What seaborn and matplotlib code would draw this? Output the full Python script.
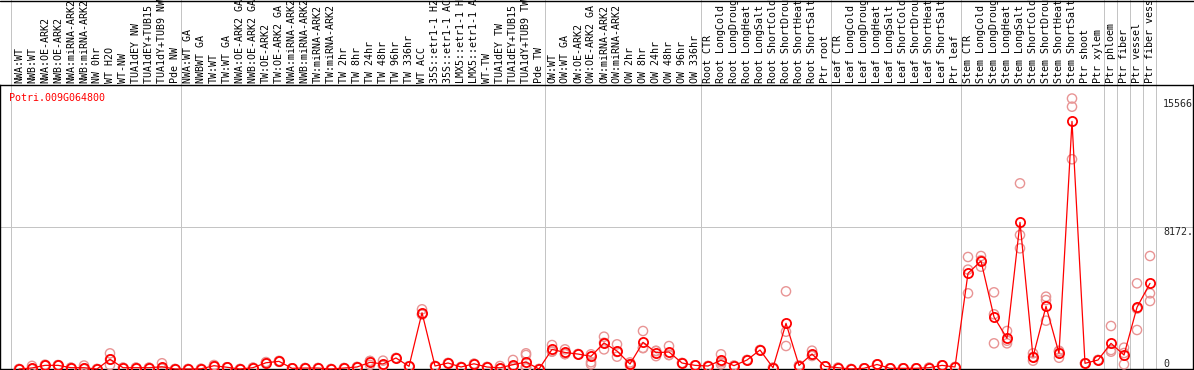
import numpy as np
import pandas as pd
import seaborn as sns
import matplotlib.pyplot as plt
import matplotlib.transforms as mtransforms

sns.set_style("white")
plt.rcParams['font.family'] = ['DejaVu Sans Mono', 'DejaVu Sans']

# sample names, left to right
samples = [
    'NWA:WT', 'NWB:WT', 'NWA:OE-ARK2', 'NWB:OE-ARK2', 'NWA:miRNA-ARK2', 'NWB:miRNA-ARK2',
    'NW 0hr', 'WT H2O', 'WT-NW', 'TUA1dEY NW', 'TUA1dEY+TUB15 NW', 'TUA1dY+TUB9 NW', 'Pde NW',
    'NWA:WT GA', 'NWBWT GA', 'TW:WT', 'TW:WT GA', 'NWA:OE-ARK2 GA', 'NWB:OE-ARK2 GA',
    'TW:OE-ARK2', 'TW:OE-ARK2 GA', 'NWA:miRNA-ARK2 GA', 'NWB:miRNA-ARK2 GA', 'TW:miRNA-ARK2',
    'TW:miRNA-ARK2 GA', 'TW 2hr', 'TW 8hr', 'TW 24hr', 'TW 48hr', 'TW 96hr', 'TW 336hr', 'WT ACC',
    '35S::etr1-1 H2O', '35S::etr1-1 ACC', 'LMX5::etr1-1 H2O', 'LMX5::etr1-1 ACC', 'WT-TW',
    'TUA1dEY TW', 'TUA1dEY+TUB15 TW', 'TUA1dY+TUB9 TW', 'Pde TW',
    'OW:WT', 'OW:WT GA', 'OW:OE-ARK2', 'OW:OE-ARK2 GA', 'OW:miRNA-ARK2', 'OW:miRNA-ARK2 GA',
    'OW 2hr', 'OW 8hr', 'OW 24hr', 'OW 48hr', 'OW 96hr', 'OW 336hr',
    'Root CTR', 'Root LongCold', 'Root LongDrought', 'Root LongHeat', 'Root LongSalt',
    'Root ShortCold', 'Root ShortDrought', 'Root ShortHeat', 'Root ShortSalt', 'Ptr root',
    'Leaf CTR', 'Leaf LongCold', 'Leaf LongDrought', 'Leaf LongHeat', 'Leaf LongSalt',
    'Leaf ShortCold', 'Leaf ShortDrought', 'Leaf ShortHeat', 'Leaf ShortSalt', 'Ptr leaf',
    'Stem CTR', 'Stem LongCold', 'Stem LongDrought', 'Stem LongHeat', 'Stem LongSalt',
    'Stem ShortCold', 'Stem ShortDrought', 'Stem ShortHeat', 'Stem ShortSalt', 'Ptr shoot',
    'Ptr xylem', 'Ptr phloem', 'Ptr fiber', 'Ptr vessel', 'Ptr fiber vessel',
]

# mean expression per sample
means = [
    0, 60, 210, 210, 75, 75, 0, 560, 75, 75, 75, 130, 0,
    0, 10, 190, 100, 0, 75, 360, 440, 40, 55, 55, 0, 55, 115, 385, 290, 633, 155,
    3240, 172, 345, 115, 300, 115, 67, 250, 400, 0,
    1130, 950, 860, 730, 1500, 1036, 288, 1535, 940, 978, 345, 210,
    172, 500, 192, 518, 1093, 75, 2630, 200, 863, 153,
    75, 0, 40, 260, 40, 40, 40, 75, 210, 115,
    5508, 6215, 2993, 1765, 8441, 690, 3607, 902, 14250, 327, 518,
    1477, 805, 3550, 4930,
]

# individual replicates per sample
replicates = [
    [0, 0], [0, 180, 0], [250, 190, 190], [230, 210, 190], [75, 75], [0, 200, 25], [0, 0],
    [900, 230, 550], [75, 75], [75, 75], [75, 75], [330, 30, 30], [0, 0],
    [0, 0], [10, 10], [230, 190, 150], [100, 100], [0, 0], [75, 75], [400, 360, 320],
    [470, 440, 410], [40, 40], [55, 55], [55, 55], [0, 0], [55, 55], [115, 115],
    [460, 460, 235], [480, 200, 190], [633, 633], [155, 155], [3435, 3150, 3135],
    [172, 172], [345, 345], [115, 115], [300, 300], [115, 115], [172, 15, 15],
    [520, 115, 115], [903, 805, 130, 40, 120], [0, 0],
    [1380, 1000, 1010], [1130, 860, 860], [860, 860], [845, 268, 390], [1860, 1130, 1510],
    [1420, 710, 980], [380, 200, 288], [2187, 1220, 1200], [1050, 740, 1030],
    [1320, 800, 815], [345, 345], [210, 210],
    [172, 172], [845, 268, 390], [192, 192], [518, 518], [1093, 1093], [75, 75],
    [4470, 2147, 1324], [200, 200], [1055, 750, 785], [153, 153],
    [75, 75], [0, 0], [40, 40], [260, 260], [40, 40], [40, 40], [40, 40], [75, 75],
    [210, 210], [115, 115],
    [6446, 4356, 5720], [6503, 5888, 6254], [4413, 3148, 1477], [2187, 1477, 1631],
    [10685, 7712, 6944], [900, 480, 690], [4162, 3970, 2781], [1050, 650, 1000],
    [15566, 15096, 12070], [327, 327], [518, 518],
    [2475, 1093, 997], [1228, 268, 920], [4930, 2245, 3475], [6503, 4356, 3913],
]

gene = 'Potri.009G064800'
# last index of each tissue group
group_ends = [12, 40, 52, 62, 72, 83, 84, 85, 86, 87]

df = pd.DataFrame({'idx': np.arange(len(samples)), 'mean': means})
rep_df = pd.DataFrame([(i, v) for i, reps in enumerate(replicates) for v in reps],
                      columns=['idx', 'value'])

ymax = max(max(r) for r in replicates)
top = ymax * 1.05

W, H = 1194, 370
fig = plt.figure(figsize=(W / 100, H / 100), dpi=100)
ax = fig.add_axes([0, 1 / H, 1193 / W, 284 / H])

grid_c = '#c4c4c4'
px = 0.72

# replicates behind, mean line on top
sns.scatterplot(data=rep_df, x='idx', y='value', ax=ax, marker='o', s=44,
                facecolor='none', edgecolor='#e89494', linewidth=1.0, zorder=3,
                clip_on=False, legend=False)
sns.lineplot(data=df, x='idx', y='mean', ax=ax, color='red', linewidth=0.9,
             marker='o', markersize=6.6, markerfacecolor='none',
             markeredgecolor='red', markeredgewidth=1.3, zorder=4, clip_on=False)

ax.set_xlim(-19 / 13, (1193 - 19) / 13)
ax.set_ylim(0, top)
ax.set_xticks([])
ax.set_yticks([])
ax.set_xlabel('')
ax.set_ylabel('')
for s in ax.spines.values():
    s.set_visible(True)
    s.set_color('black')
    s.set_linewidth(1.0)

trans = mtransforms.blended_transform_factory(ax.transData, ax.transAxes)
ext = 1 + 85 / 284

# tissue group separators, running up into the label strip
for x in [-0.6] + [g + 0.5 for g in group_ends]:
    ax.plot([x, x], [0, ext], transform=trans, color=grid_c, lw=px, zorder=1, clip_on=False)
ax.axhline(top / 2, color=grid_c, lw=px, zorder=1)

# sample labels above the plot
for i, name in enumerate(samples):
    ax.text(i, 1.007, name, transform=trans, rotation=90, ha='center', va='bottom',
            fontsize=7.2, color='black', clip_on=False, zorder=5)

# value labels on the right
xr = (1163 - 19) / 13
ax.text(xr, ymax, '%d' % ymax, ha='left', va='top', fontsize=7.2, clip_on=True)
ax.text(xr, top / 2, '%.2f' % (top / 2), ha='left', va='top', fontsize=7.2, clip_on=True)
ax.text(xr, 0, '0', ha='left', va='bottom', fontsize=7.2, clip_on=True)

ax.text(9 / 1193, (369 - 93) / 284, gene, transform=ax.transAxes, ha='left', va='top',
        fontsize=7.2, color='red')

fig.add_artist(plt.Line2D([0, 1], [1 - 0.5 / H, 1 - 0.5 / H], color='black', lw=1.0))

fig.savefig('out.png', dpi=100)
